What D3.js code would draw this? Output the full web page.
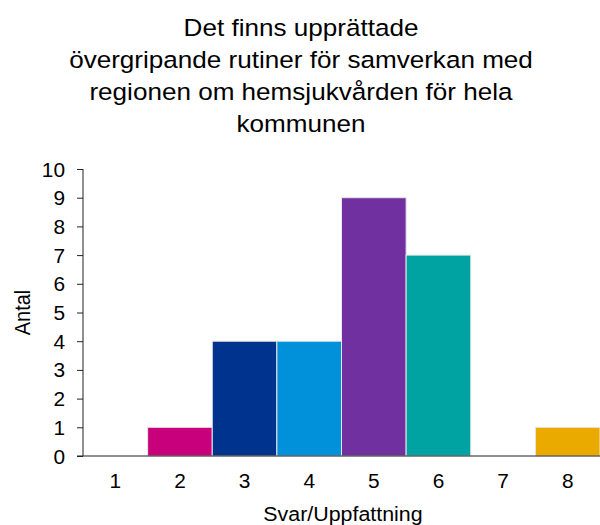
<!DOCTYPE html>
<html><head><meta charset="utf-8">
<script src="https://cdn.jsdelivr.net/npm/d3@7"></script>
<style>body{margin:0;background:#fff;} text{font-family:"Liberation Sans",Arial,sans-serif;fill:#000;}</style>
</head><body>
<svg id="c" width="600" height="525"></svg>
<script>
const categories = ["1","2","3","4","5","6","7","8"];
const values = [0,1,4,4,9,7,0,1];
const colors = ["#C8007C","#C8007C","#00338D","#0091DA","#7030A0","#00A3A1","#C8007C","#EAAA00"];
const yTicks = [0,1,2,3,4,5,6,7,8,9,10];
const titleLines = ["Det finns upprättade","övergripande rutiner för samverkan med","regionen om hemsjukvården för hela","kommunen"];

const SX = 1.11, SA = 1.07;
const svg = d3.select("#c");
const x = d3.scaleBand().domain(categories).range([83, 600]).padding(0);
const y = d3.scaleLinear().domain([0,10]).range([456, 169]);

svg.append("g").selectAll("text").data(titleLines).join("text")
  .attr("transform",(d,i)=>`translate(301,${36+i*32}) scale(${SX},1)`)
  .attr("text-anchor","middle")
  .style("font-size","23.5px").text(d=>d);

svg.append("g").selectAll("rect").data(values).join("rect")
  .attr("x",(d,i)=>x(categories[i]))
  .attr("y",d=>y(d))
  .attr("width",x.bandwidth())
  .attr("height",d=>y(0)-y(d))
  .attr("fill",(d,i)=>colors[i])
  .attr("stroke","#e8e8e8").attr("stroke-width",1);

const ya = svg.append("g").attr("transform","translate(83,0)")
  .call(d3.axisLeft(y).tickValues(yTicks).tickSize(6).tickPadding(0).tickFormat(d3.format("d")));
ya.selectAll(".tick text")
  .attr("x",null).attr("dy",null)
  .attr("transform","translate(-18,7) scale(" + SA + ",1)")
  .style("font-size","19.5px").style("font-family","Liberation Sans, Arial, sans-serif");
ya.selectAll("line,path").attr("stroke","#222");
ya.select(".domain").attr("d","M0,169V456");

const xa = svg.append("g").attr("transform","translate(0,456)")
  .call(d3.axisBottom(x).tickSize(0).tickPadding(0));
xa.selectAll(".tick text")
  .attr("y",null).attr("dy",null)
  .attr("transform","translate(0,32) scale(" + SA + ",1)")
  .style("font-size","19.5px").style("font-family","Liberation Sans, Arial, sans-serif");
xa.select(".domain").attr("d","M77,0H600").attr("stroke","#222");

svg.append("text").attr("transform",`translate(30,312.5) scale(${SA},1) rotate(-90)`).attr("text-anchor","middle")
  .style("font-size","20px").text("Antal");
svg.append("text").attr("transform",`translate(343,521) scale(${SA},1)`).attr("text-anchor","middle")
  .style("font-size","20px").text("Svar/Uppfattning");
</script>
</body></html>
